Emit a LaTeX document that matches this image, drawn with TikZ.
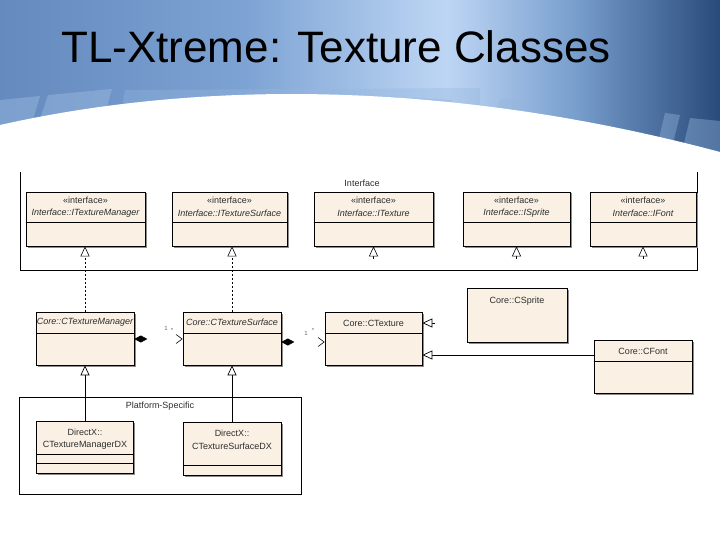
\documentclass[tikz,border=0pt]{standalone}
\usepackage{fontspec}
\setmainfont{Liberation Sans}
\usetikzlibrary{arrows.meta,shadows}
\definecolor{cream}{RGB}{250,241,228}
\definecolor{txtc}{RGB}{45,45,45}
\definecolor{bga}{RGB}{100,138,190}
\definecolor{bgb}{RGB}{125,163,212}
\definecolor{bgc}{RGB}{190,214,244}
\definecolor{bgd}{RGB}{120,158,205}
\definecolor{bge}{RGB}{40,74,122}
\definecolor{stripe}{RGB}{150,182,222}
\pgfdeclarehorizontalshading{slidebg}{100bp}{color(0bp)=(bga); color(25bp)=(bga); color(42bp)=(bgb); color(56bp)=(bgc); color(65bp)=(bgd); color(75bp)=(bge); color(100bp)=(bge)}
\tikzset{
  cls/.style={draw=black, line width=0.7pt, fill=cream, inner sep=0pt,
    drop shadow={shadow xshift=1.5pt, shadow yshift=-1.5pt, fill=black!45, opacity=1}},
  txt/.style={font=\fontsize{9}{10}\selectfont, text=txtc, inner sep=0pt},
  itxt/.style={txt, font=\fontsize{9}{10}\selectfont\itshape},
  frame/.style={draw=black, line width=0.7pt},
  real/.style={draw=black, line width=0.6pt, dash pattern=on 2pt off 2pt, -{Triangle[open, fill=white, length=10pt, width=9pt]}},
  gen/.style={draw=black, line width=0.7pt, -{Triangle[open, fill=white, length=10pt, width=9pt]}},
  comp/.style={draw=white, line width=0.6pt, {Diamond[black, fill=black, length=13pt, width=7pt]}-{Straight Barb[black, length=6pt, width=9pt, line width=0.6pt]}},
  mult/.style={font=\fontsize{6}{6}\selectfont, text=black!60, inner sep=0pt}
}
\begin{document}
\begin{tikzpicture}[x=1pt,y=-1pt]
\useasboundingbox (0,0) rectangle (720,540);
% background
\shade[shading=slidebg] (0,0) rectangle (720,160);
\fill[stripe, opacity=0.5] (0,100) -- (40,96) -- (30,130) -- (0,130) -- cycle;
\fill[stripe, opacity=0.5] (48,95) -- (112,89) -- (102,125) -- (38,125) -- cycle;
\fill[stripe, opacity=0.35] (125,90) -- (480,88) -- (480,120) -- (120,120) -- cycle;
\fill[stripe, opacity=0.5] (372,96) -- (398,97) -- (390,125) -- (362,125) -- cycle;
\fill[stripe, opacity=0.5] (412,98) -- (452,100) -- (444,128) -- (402,128) -- cycle;
\fill[stripe, opacity=0.4] (500,99) -- (520,100) -- (512,130) -- (490,130) -- cycle;
\fill[stripe, opacity=0.4] (665,113) -- (680,115) -- (670,155) -- (655,155) -- cycle;
\fill[stripe, opacity=0.4] (690,118) -- (720,121) -- (720,160) -- (680,160) -- cycle;
\fill[white] (0,125) .. controls (200,80) and (450,80) .. (720,152) -- (720,540) -- (0,540) -- cycle;
% title
\node[anchor=base west, inner sep=0pt, font=\fontsize{44}{44}\selectfont] (title) at (61,63) {TL-Xtreme: Texture Classes};

% Interface package frame
\draw[frame] (20,172) -- (20,270) -- (697,270) -- (697,172);
\node[txt] (ifacelbl) at (362,183) {Interface};

% interface boxes
\node[cls, minimum width=119pt, minimum height=54pt] (itm) at (85.5,219) {};
\node[cls, minimum width=115pt, minimum height=54pt] (isurf) at (229.5,219) {};
\node[cls, minimum width=119pt, minimum height=54pt] (itex) at (373.5,219) {};
\node[cls, minimum width=107pt, minimum height=54pt] (ispr) at (516.5,219) {};
\node[cls, minimum width=106pt, minimum height=54pt] (ifont) at (643,219) {};
\foreach \n in {itm,isurf,itex,ispr,ifont}{
  \draw[line width=0.7pt] (\n.west |- 0,222) -- (\n.east |- 0,222);
  \node[txt] at (\n.center |- 0,200) {«interface»};
}
\node[itxt] at (itm.center |- 0,213) {Interface::ITextureManager};
\node[itxt] at (isurf.center |- 0,213) {Interface::ITextureSurface};
\node[itxt] at (itex.center |- 0,213) {Interface::ITexture};
\node[itxt] at (ispr.center |- 0,213) {Interface::ISprite};
\node[itxt] at (ifont.center |- 0,213) {Interface::IFont};

% core classes
\node[cls, minimum width=98pt, minimum height=53pt] (mgr) at (85,338.5) {};
\node[cls, minimum width=98pt, minimum height=53pt] (surf) at (232,338.5) {};
\node[cls, minimum width=97pt, minimum height=53pt] (tex) at (373.5,338.5) {};
\node[cls, minimum width=100pt, minimum height=54pt] (spr) at (517,315) {};
\node[cls, minimum width=98pt, minimum height=53pt] (font) at (643,366.5) {};
\foreach \n in {mgr,surf,tex}{
  \draw[line width=0.7pt] (\n.west |- 0,333) -- (\n.east |- 0,333);
}
\draw[line width=0.7pt] (font.west |- 0,361) -- (font.east |- 0,361);
\node[itxt] at (mgr.center |- 0,322) {Core::CTextureManager};
\node[itxt] at (surf.center |- 0,322) {Core::CTextureSurface};
\node[txt] at (tex.center |- 0,323) {Core::CTexture};
\node[txt] at (spr.center |- 0,301) {Core::CSprite};
\node[txt] at (font.center |- 0,351) {Core::CFont};

% realizations
\draw[real] (mgr.north) -- (mgr.north |- itm.south);
\draw[real] (surf.north) -- (surf.north |- isurf.south);
\coordinate (r3) at (373.5,259);
\coordinate (r4) at (516.5,259);
\coordinate (r5) at (643,259);
\draw[gen, line width=0.6pt] (r3) -- (r3 |- itex.south);
\draw[gen, line width=0.6pt] (r4) -- (r4 |- ispr.south);
\draw[gen, line width=0.6pt] (r5) -- (r5 |- ifont.south);

% compositions
\draw[comp] (mgr.east |- 0,339) -- (surf.west |- 0,339);
\draw[comp] (surf.east |- 0,342) -- (tex.west |- 0,342);
\node[mult] at (166,328) {1};
\node[mult] at (172,330) {*};
\node[mult] at (306,333) {1};
\node[mult] at (313,330) {*};

% generalizations to CTexture
\coordinate (sprend) at (435,323);
\draw[gen] (sprend) -- (tex.east |- sprend);
\draw[gen] (font.west |- 0,355) -- (tex.east |- 0,355);

% Platform-Specific package
\node[frame, minimum width=282pt, minimum height=97pt, inner sep=0pt] (plat) at (160,445.5) {};
\node[txt] (platlbl) at (160,406) {Platform-Specific};
\node[cls, minimum width=97pt, minimum height=52pt] (dx1) at (85,447) {};
\node[cls, minimum width=98pt, minimum height=53pt] (dx2) at (232,448.5) {};
\draw[line width=0.7pt] (dx1.west |- 0,454) -- (dx1.east |- 0,454);
\draw[line width=0.7pt] (dx1.west |- 0,463) -- (dx1.east |- 0,463);
\draw[line width=0.7pt] (dx2.west |- 0,465) -- (dx2.east |- 0,465);
\node[txt] at (dx1.center |- 0,432) {DirectX::};
\node[txt] at (dx1.center |- 0,445) {CTextureManagerDX};
\node[txt] at (dx2.center |- 0,433) {DirectX::};
\node[txt] at (dx2.center |- 0,446) {CTextureSurfaceDX};
\draw[gen] (dx1.north) -- (dx1.north |- mgr.south);
\draw[gen] (dx2.north) -- (dx2.north |- surf.south);
\end{tikzpicture}
\end{document}
